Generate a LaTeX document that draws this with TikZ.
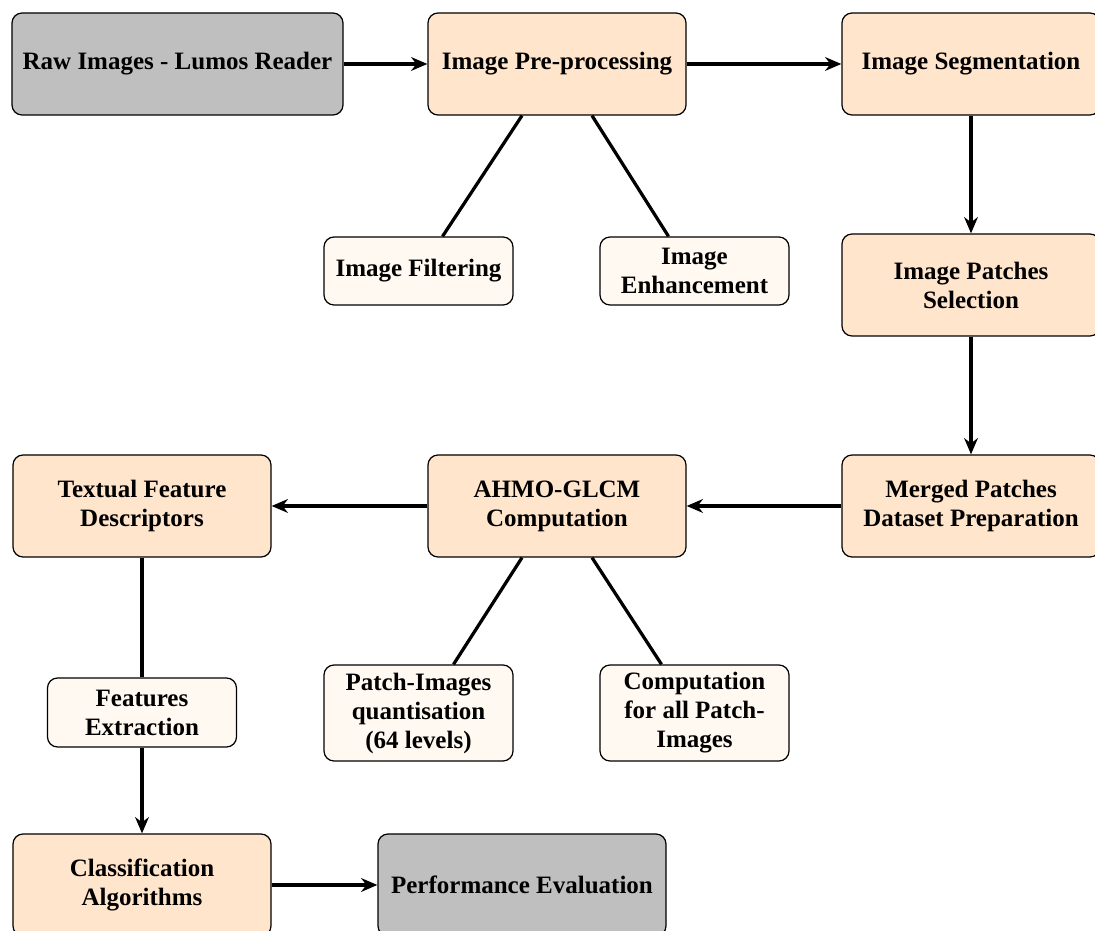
\documentclass[tikz,border=0pt]{standalone}
\usepackage{fontspec}
\setmainfont{Liberation Serif}
\usetikzlibrary{arrows.meta,calc}
\begin{document}
\begin{tikzpicture}[x=0.4pt,y=-0.4pt,
  base/.style={draw=black, line width=0.5pt, rounded corners=4pt, align=center, font=\fontsize{10}{11.6}\selectfont\bfseries, inner sep=2pt},
  graybox/.style={base, fill=gray!50},
  mainbox/.style={base, fill=orange!20, minimum width=103.2pt, minimum height=40.8pt},
  subbox/.style={base, fill=orange!5, minimum width=75.6pt},
  conn/.style={line width=1.3pt},
  arr/.style={conn, -{Stealth[length=6.5pt,width=5.5pt]}}]
\useasboundingbox (0,0) rectangle (1095,931);
\node[graybox, minimum width=132.4pt, minimum height=40.8pt] (raw) at (177.5,64) {Raw Images - Lumos Reader};
\node[mainbox] (pre) at (557,64) {Image Pre-processing};
\node[mainbox] (seg) at (971,64) {Image Segmentation};
\node[subbox, minimum height=27.2pt] (filt) at (418.5,271) {Image Filtering};
\node[subbox, minimum height=27.2pt] (enh) at (694.5,271) {Image\\Enhancement};
\node[mainbox] (sel) at (971,285) {Image Patches\\Selection};
\node[mainbox] (mer) at (971,506) {Merged Patches\\Dataset Preparation};
\node[mainbox] (ahmo) at (557,506) {AHMO-GLCM\\Computation};
\node[mainbox] (tex) at (142,506) {Textual Feature\\Descriptors};
\node[subbox, minimum height=27.6pt] (fex) at (142,712.5) {Features\\Extraction};
\node[subbox, minimum height=38.4pt] (quant) at (418.5,713) {Patch-Images\\quantisation\\(64 levels)};
\node[subbox, minimum height=38.4pt] (comp) at (694.5,713) {Computation\\for all Patch-\\Images};
\node[mainbox] (cls) at (142,885) {Classification\\Algorithms};
\node[graybox, minimum width=115.2pt, minimum height=40.8pt] (perf) at (522,885) {Performance Evaluation};

\draw[arr] (raw) -- (pre);
\draw[arr] (pre) -- (seg);
\draw[arr] (seg) -- (sel);
\draw[arr] (sel) -- (mer);
\draw[arr] (mer) -- (ahmo);
\draw[arr] (ahmo) -- (tex);
\draw[conn] (tex) -- (fex);
\draw[arr] (fex) -- (cls);
\draw[arr] (cls) -- (perf);

\draw[conn] ($(pre.south)+(-35,0)$) -- ($(filt.north)+(24,0)$);
\draw[conn] ($(pre.south)+(35,0)$) -- ($(enh.north)+(-26,0)$);
\draw[conn] ($(ahmo.south)+(-35,0)$) -- ($(quant.north)+(35,0)$);
\draw[conn] ($(ahmo.south)+(35,0)$) -- ($(comp.north)+(-33,0)$);
\end{tikzpicture}
\end{document}
